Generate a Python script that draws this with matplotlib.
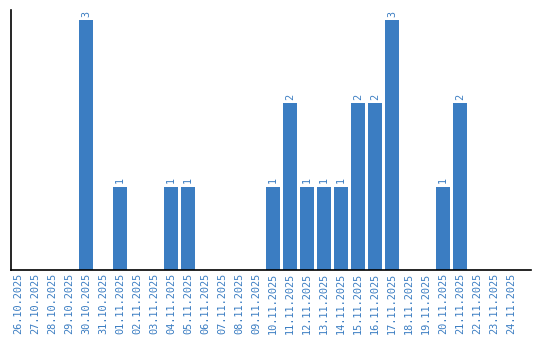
import matplotlib
matplotlib.use("Agg")
import matplotlib.pyplot as plt

dates = ["26.10.2025", "27.10.2025", "28.10.2025", "29.10.2025", "30.10.2025",
         "31.10.2025", "01.11.2025", "02.11.2025", "03.11.2025", "04.11.2025",
         "05.11.2025", "06.11.2025", "07.11.2025", "08.11.2025", "09.11.2025",
         "10.11.2025", "11.11.2025", "12.11.2025", "13.11.2025", "14.11.2025",
         "15.11.2025", "16.11.2025", "17.11.2025", "18.11.2025", "19.11.2025",
         "20.11.2025", "21.11.2025", "22.11.2025", "23.11.2025", "24.11.2025"]
counts = [0, 0, 0, 0, 3, 0, 1, 0, 0, 1, 1, 0, 0, 0, 0,
          1, 2, 1, 1, 1, 2, 2, 3, 0, 0, 1, 2, 0, 0, 0]

blue = "#3b7dc2"

fig = plt.figure(figsize=(5.4, 3.4), dpi=100)
ax = fig.add_axes([11 / 540, 70 / 340, 520 / 540, 260 / 340])

x = list(range(len(dates)))
ax.bar(x, counts, width=0.82, color=blue)
for i, c in zip(x, counts):
    if c > 0:
        ax.text(i, c + 0.04, str(c), rotation=90, ha="center", va="bottom",
                color=blue, fontsize=7.3, family="DejaVu Sans Mono")

ax.set_xlim(-0.41, 30.18)
ax.set_ylim(0, 3.12)
ax.set_xticks(x)
ax.set_xticklabels(dates, rotation=90, color=blue, fontsize=7.4,
                   family="DejaVu Sans Mono")
ax.tick_params(axis="x", length=0, pad=2)
ax.set_yticks([])
ax.spines["top"].set_visible(False)
ax.spines["right"].set_visible(False)
ax.spines["left"].set_linewidth(1.2)
ax.spines["bottom"].set_linewidth(1.2)

fig.savefig("out.png", dpi=100)
